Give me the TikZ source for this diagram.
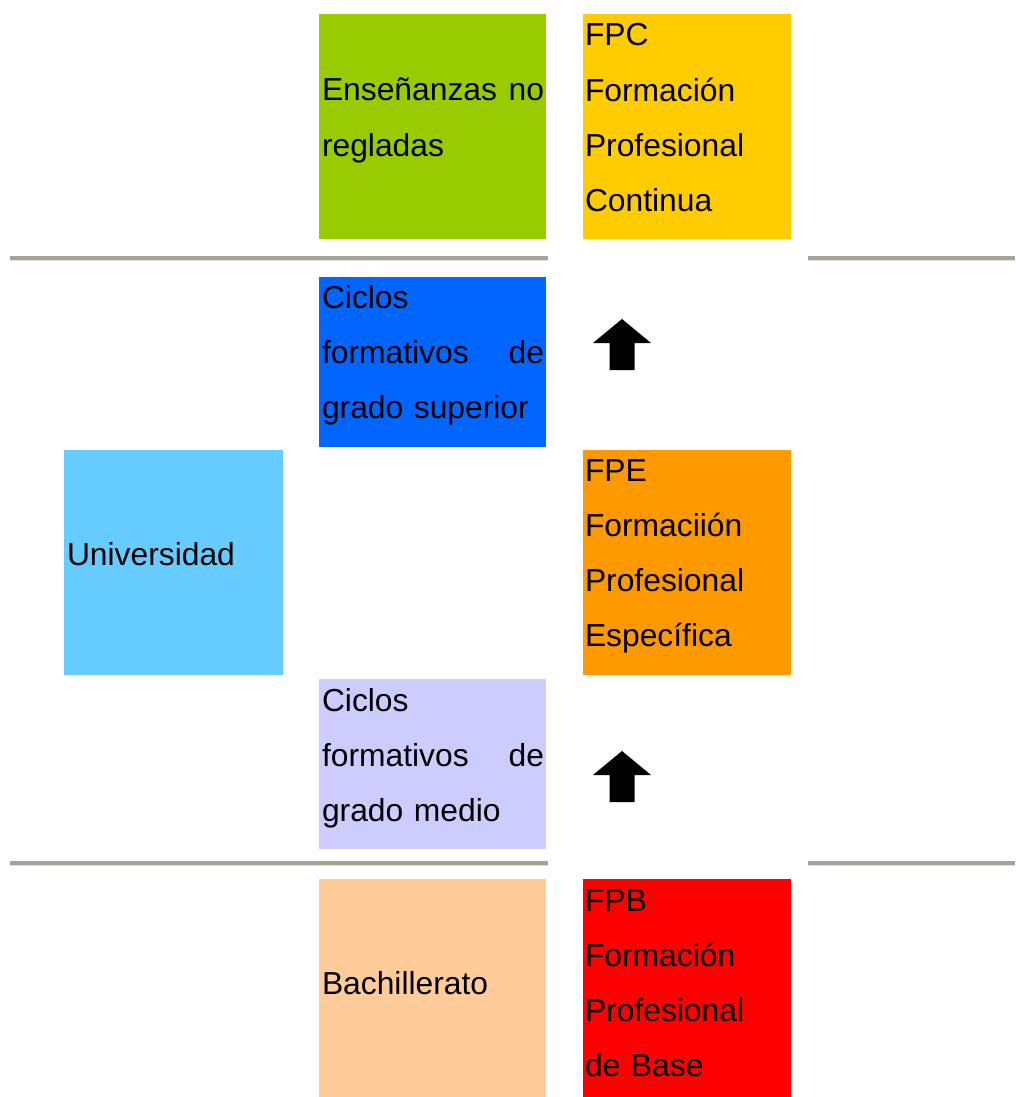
\documentclass[tikz,border=0pt]{standalone}
\usepackage{fontspec}
\setmainfont{Liberation Sans}
\definecolor{cGreen}{HTML}{99CC00}
\definecolor{cFPC}{HTML}{FFCC00}
\definecolor{cBlue}{HTML}{0066FF}
\definecolor{cUniv}{HTML}{66CCFF}
\definecolor{cFPE}{HTML}{FF9900}
\definecolor{cMedio}{HTML}{CCCCFF}
\definecolor{cBach}{HTML}{FFCC99}
\definecolor{cFPB}{HTML}{FF0000}
\definecolor{cRule}{HTML}{A6A296}
\definecolor{cShadow}{HTML}{E2E0DA}
\begin{document}
\begin{tikzpicture}[x=1pt,y=-1pt,
  box/.style={rectangle, draw=none, inner sep=0pt, outer sep=0pt, anchor=north west},
  txt/.style={inner sep=0pt, outer sep=0pt, anchor=base west, align=left,
    font=\fontsize{31.8}{55.3}\selectfont},
  midtxt/.style={txt, text width=222pt},
  righttxt/.style={txt, text width=204pt},
  rule/.style={cRule, line width=4pt},
  ruleshadow/.style={cShadow, line width=1.2pt},
  uparrow/.pic={\fill[black] (0,0) -- (29,24) -- (12.5,24) -- (12.5,51) -- (-12.5,51) -- (-12.5,24) -- (-29,24) -- cycle;}
]
\useasboundingbox (0,0) rectangle (1015,1097);

% boxes
\node[box, fill=cGreen, minimum width=227pt, minimum height=225pt] (ens) at (319,14) {};
\node[box, fill=cFPC, minimum width=208pt, minimum height=225pt] (fpc) at (583,14) {};
\node[box, fill=cBlue, minimum width=227pt, minimum height=170pt] (sup) at (319,277) {};
\node[box, fill=cUniv, minimum width=219pt, minimum height=225pt] (uni) at (64,450) {};
\node[box, fill=cFPE, minimum width=208pt, minimum height=225pt] (fpe) at (583,450) {};
\node[box, fill=cMedio, minimum width=227pt, minimum height=170pt] (med) at (319,679) {};
\node[box, fill=cBach, minimum width=227pt, minimum height=218pt] (bach) at (319,879) {};
\node[box, fill=cFPB, minimum width=208pt, minimum height=218pt] (fpb) at (583,879) {};

% texts
\node[midtxt] (tens) at (322,101) {Enseñanzas\hfill no\\regladas};
\node[righttxt] (tfpc) at (585,46) {FPC\\Formación\\Profesional\\Continua};
\node[midtxt] (tsup) at (322,308) {Ciclos\\formativos\hfill de\\grado superior};
\node[txt] (tuni) at (67,565) {Universidad};
\node[righttxt] (tfpe) at (585,481) {FPE\\Formaciión\\Profesional\\Específica};
\node[midtxt] (tmed) at (322,711) {Ciclos\\formativos\hfill de\\grado medio};
\node[txt] (tbach) at (322,994) {Bachillerato};
\node[righttxt] (tfpb) at (585,911) {FPB\\Formación\\Profesional\\de Base};

% rules
\coordinate (r1a) at (10,258); \coordinate (r1b) at (548,258);
\coordinate (r1c) at (808,258); \coordinate (r1d) at (1015,258);
\coordinate (r2a) at (10,863); \coordinate (r2b) at (548,863);
\coordinate (r2c) at (808,863); \coordinate (r2d) at (1015,863);
\foreach \a/\b in {r1a/r1b,r1c/r1d,r2a/r2b,r2c/r2d}{
  \draw[ruleshadow] ([yshift=-2.6pt]\a) -- ([yshift=-2.6pt]\b);
  \draw[rule] (\a) -- (\b);
}

% arrows
\pic at (622,319) {uparrow};
\pic at (622,751) {uparrow};
\end{tikzpicture}
\end{document}
